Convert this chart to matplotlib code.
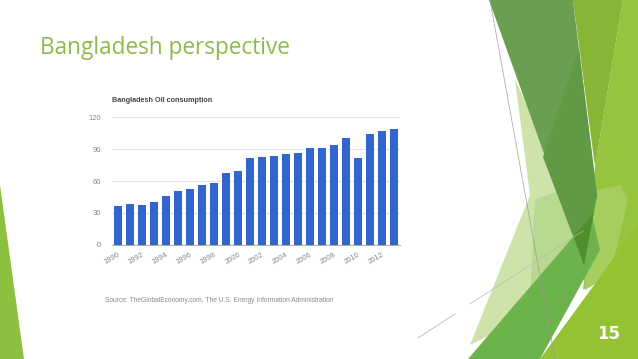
import matplotlib
matplotlib.use("Agg")
import matplotlib.pyplot as plt
from matplotlib.patches import Polygon

years = list(range(1990, 2014))
oil = [36, 38, 37, 40, 45.6, 51, 52, 56, 58.5, 67.6, 69, 81.5,
       82.4, 83.6, 85, 86.5, 91, 91, 94.3, 100.3, 82, 104, 107, 109]
yticks = [0, 30, 60, 90, 120]
xlabels = [str(y) for y in years[::2]]

W, H = 638, 359
fig = plt.figure(figsize=(W / 100, H / 100), dpi=100)
fig.patch.set_facecolor("white")

# ---- slide decoration (pixel coords, y down) ----
bg = fig.add_axes([0, 0, 1, 1], zorder=0)
bg.set_xlim(0, W); bg.set_ylim(H, 0); bg.axis("off")

shapes = [
    ([(623, 0), (638, 0), (638, 250), (583, 290), (595, 167)], "#97c43e"),   # right strip
    ([(573, 0), (623, 0), (595, 167)], "#88b535"),                          # yellow-green wedge
    ([(597, 190), (620, 185), (628, 200), (610, 275), (585, 290), (584, 265)], "#a6cd5e"),
    ([(515, 80), (530, 195), (470, 345), (560, 300), (575, 200)], "#cde3aa"),  # pale
    ([(535, 200), (560, 190), (575, 240), (530, 300)], "#b9d890"),
    ([(468, 359), (592, 215), (600, 250), (540, 359)], "#6db34b"),          # mid green
    ([(489, 0), (573, 0), (597, 195), (584, 265)], "#6a9f52"),              # dark green
    ([(579, 49), (597, 195), (584, 265), (543, 157)], "#619a44"),
    ([(573.7, 236.3), (593.6, 213.3), (584, 265)], "#4e8f2c"),
    ([(540, 359), (638, 225), (638, 359)], "#94c232"),                      # bottom right
    ([(0, 185), (24, 359), (0, 359)], "#8dc03f"),                           # left edge
]
for pts, col in shapes:
    bg.add_patch(Polygon(pts, closed=True, facecolor=col, edgecolor="none"))

bg.plot([490, 555], [0, 359], color="#9a9a9a", lw=0.6, alpha=0.8)
bg.plot([418, 455], [338, 314], color="#b8b8b8", lw=0.6)
bg.plot([470, 583], [304, 231], color="#b8b8b8", lw=0.6, alpha=0.8)

bg.text(40, 48, "Bangladesh perspective", fontsize=16.3, color="#8dbb4a",
        family="Open Sans", va="center", ha="left")
bg.text(609, 334, "15", fontsize=12, color="white", fontweight="bold",
        va="center", ha="center")
bg.text(112, 100, "Bangladesh Oil consumption", fontsize=5.2, color="#444444",
        family="Liberation Sans", fontweight="bold", va="center", ha="left")
bg.text(105, 300, "Source: TheGlobalEconomy.com, The U.S. Energy Information Administration",
        fontsize=4.8, color="#888888", family="Liberation Sans", va="center", ha="left")

# ---- chart ----
ax = fig.add_axes([112 / W, (H - 244.7) / H, 288 / W, 127.4 / H], zorder=1)
ax.patch.set_alpha(0)
x = list(range(len(years)))
ax.bar(x, oil, width=0.62, color="#3366cc", zorder=2)
ax.set_xlim(-0.5, len(years) - 0.5)
ax.set_ylim(0, 120)
ax.set_yticks(yticks)
ax.set_yticklabels([str(v) for v in yticks], fontsize=5.5, color="#888888",
                   family="Liberation Sans")
ax.set_xticks(x[::2])
ax.set_xticklabels(xlabels, fontsize=5.5, color="#888888", family="Liberation Sans",
                   rotation=30, ha="right", rotation_mode="anchor")
ax.tick_params(length=0, pad=8)
ax.tick_params(axis="x", pad=5)
ax.grid(axis="y", color="#dddddd", lw=0.6, zorder=0)
for s in ["top", "right", "left"]:
    ax.spines[s].set_visible(False)
ax.spines["bottom"].set_color("#999999")
ax.spines["bottom"].set_linewidth(0.6)

fig.savefig("out.png", dpi=100)
